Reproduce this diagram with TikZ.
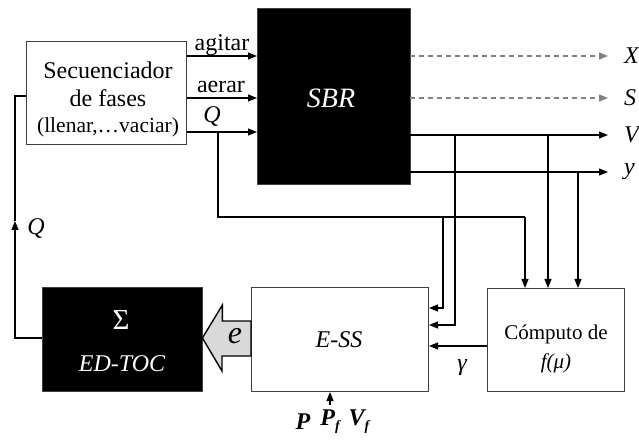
\documentclass[tikz,border=0pt]{standalone}
\usepackage{fontspec}
\setmainfont{Liberation Serif}
\usetikzlibrary{arrows.meta,calc}
\begin{document}
\begin{tikzpicture}[x=1pt,y=-1pt,
  arr/.style={line width=1.2pt,-{Triangle[length=9pt,width=7pt]}},
  conn/.style={line width=1.2pt},
  darr/.style={line width=1.2pt,black!50,dash pattern=on 5pt off 4pt,-{Triangle[length=9pt,width=7pt]}},
  wbox/.style={draw=black!75,line width=1pt,fill=white,inner sep=0pt,anchor=north west},
  bbox/.style={draw=black!75,fill=black,inner sep=0pt,anchor=north west},
  txt/.style={font=\fontsize{24}{28}\selectfont,inner sep=0pt},
  itxt/.style={font=\fontsize{24}{28}\selectfont\itshape,inner sep=0pt}]
\useasboundingbox (0,0) rectangle (639,443);
% boxes
\node[wbox,minimum width=160pt,minimum height=103pt] (seq) at (26,41) {};
\node[bbox,minimum width=153pt,minimum height=176pt] (sbr) at (257,8) {};
\node[bbox,minimum width=160pt,minimum height=104pt] (edtoc) at (42,287) {};
\node[wbox,minimum width=177pt,minimum height=104pt] (ess) at (251,287) {};
\node[wbox,minimum width=137pt,minimum height=103pt] (comp) at (487,288) {};
% texts in boxes
\node[txt] (t1) at (108,70) {Secuenciador};
\node[txt] (t2) at (108,98) {de fases};
\node[txt,font=\fontsize{21.5}{26}\selectfont] (t3) at (108,127) {(llenar,…vaciar)};
\node[itxt,white,font=\fontsize{28}{32}\selectfont\itshape] (tsbr) at (331,98) {SBR};
\node[txt,white,font=\fontsize{29}{32}\selectfont] (tsig) at (121,320) {Σ};
\node[itxt,white] (tedtoc) at (122,364) {ED-TOC};
\node[itxt] (tess) at (339,340) {E-SS};
\node[txt,font=\fontsize{21}{26}\selectfont] (tc1) at (556,334) {Cómputo de};
\node[itxt,font=\fontsize{21}{26}\selectfont\itshape] (tc2) at (556,363) {f(μ)};
% coordinates
\coordinate (ya) at (0,56);
\coordinate (yb) at (0,98);
\coordinate (yq) at (0,132);
\coordinate (yv) at (0,135);
\coordinate (yy) at (0,172);
\coordinate (qd) at (218,217);
\coordinate (ye1) at (0,308);
\coordinate (ye2) at (0,325);
\coordinate (yg) at (0,346);
\coordinate (xend) at (608,0);
\coordinate (xq) at (218,0);
\coordinate (xb1) at (443,0);
\coordinate (xb2) at (455,0);
\coordinate (xc1) at (525,0);
\coordinate (xc2) at (548,0);
\coordinate (xc3) at (578,0);
\coordinate (fbx) at (15,338);
\coordinate (fbtip) at (15,221);
\coordinate (fby) at (15,96);
\coordinate (pin) at (330,405);
% seq -> sbr
\draw[arr] (seq.east |- ya) -- (sbr.west |- ya);
\draw[arr] (seq.east |- yb) -- (sbr.west |- yb);
\draw[arr] (seq.east |- yq) -- (sbr.west |- yq);
\node[txt] (lag) at (222,45) {agitar};
\node[txt] (lae) at (221,87) {aerar};
\node[itxt] (lq) at (212,117) {Q};
% sbr outputs
\draw[darr] (sbr.east |- ya) -- (xend |- ya);
\draw[darr] (sbr.east |- yb) -- (xend |- yb);
\draw[arr] (sbr.east |- yv) -- (xend |- yv);
\draw[arr] (sbr.east |- yy) -- (xend |- yy);
\node[itxt,anchor=west] (lx) at (624,56) {X};
\node[itxt,anchor=west] (ls) at (624,98) {S};
\node[itxt,anchor=west] (lv) at (624,135) {V};
\node[itxt,anchor=west] (ly) at (624,172) {y};
% Q branch
\draw[conn] (xq |- yq) -- (qd) -- (xc1 |- qd);
\draw[arr] (xc1 |- qd) -- (xc1 |- comp.north);
\draw[arr] (xb1 |- qd) |- (ess.east |- ye1);
% V and y branches
\draw[arr] (xb2 |- yv) |- (ess.east |- ye2);
\draw[arr] (xc2 |- yv) -- (xc2 |- comp.north);
\draw[arr] (xc3 |- yy) -- (xc3 |- comp.north);
% gamma
\draw[arr] (comp.west |- yg) -- (ess.east |- yg);
\node[itxt] (lg) at (462,368) {γ};
% feedback
\draw[arr] (edtoc.west |- fbx) -- (fbx) -- (fbtip);
\draw[conn] (fbtip) -- (fby) -- (seq.west |- fby);
\node[itxt] (lq2) at (36,229) {Q};
% bottom input
\draw[arr] (pin) -- (pin |- ess.south);
\node[itxt,font=\fontsize{24}{28}\selectfont\bfseries\itshape] (lp) at (303,422) {P};
\node[itxt,font=\fontsize{24}{28}\selectfont\bfseries\itshape] (lpf) at (330,422) {P\raisebox{-5pt}{\fontsize{14}{16}\selectfont f}};
\node[itxt,font=\fontsize{24}{28}\selectfont\bfseries\itshape] (lvf) at (359,422) {V\raisebox{-5pt}{\fontsize{14}{16}\selectfont f}};
% hollow arrow
\draw[line width=1.4pt,fill=black!15,line join=miter]
  (edtoc.east |- fbx) -- ++(20,-33) -- ++(0,16) -- (ess.west |- {(0,321)}) -- (ess.west |- {(0,356)}) -- (222,356) -- ++(0,15) -- cycle;
\node[itxt,font=\fontsize{32}{36}\selectfont\itshape] (le) at (235,336) {e};
\end{tikzpicture}
\end{document}
